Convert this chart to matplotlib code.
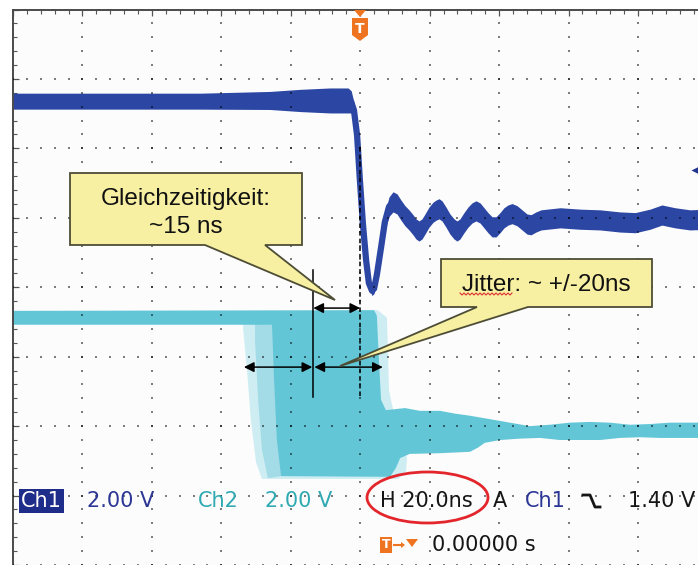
import numpy as np
import matplotlib
matplotlib.use("Agg")
import matplotlib.pyplot as plt
from matplotlib.patches import Polygon, Ellipse
from matplotlib.ticker import MultipleLocator

# ---------------- data (time in ns, H = 20 ns/div, trigger at 0; vertical in divisions) ----------------
ch1_t = [-100.0, -46.0, -26.0, -17.3, -8.7, -3.5, -2.6, -1.8, -0.9, -0.1, 0.8, 1.7, 2.5, 3.4, 4.0,
         4.8, 6.0, 7.1, 8.3, 9.45, 10.6, 11.75, 12.9, 14.06, 15.21, 16.07, 16.94, 17.8, 18.66, 19.82,
         20.97, 21.83, 22.7, 23.56, 24.71, 25.86, 27.02, 27.88, 28.74, 29.9, 31.05, 32.2, 33.35,
         34.51, 35.66, 36.81, 37.97, 39.12, 40.27, 41.42, 42.57, 43.73, 45.17, 46.61, 48.05, 49.2,
         50.64, 52.08, 57.6, 63.3, 69.1, 74.8, 79.2, 83.5, 86.9, 90.7, 95.0, 100.0]
ch1_y = [2.68, 2.68, 2.69, 2.69, 2.69, 2.69, 2.67, 2.55, 2.19, 1.55, 0.90, 0.39, 0.06, -0.05, -0.02,
         0.18, 0.57, 0.94, 1.16, 1.23, 1.20, 1.11, 1.03, 0.97, 0.90, 0.84, 0.81, 0.84, 0.91, 1.01,
         1.08, 1.11, 1.13, 1.10, 1.01, 0.91, 0.84, 0.81, 0.84, 0.93, 1.01, 1.07, 1.10,
         1.07, 1.00, 0.93, 0.87, 0.87, 0.93, 1.00, 1.04, 1.06, 1.03, 0.97, 0.91, 0.90,
         0.94, 0.97, 1.00, 0.98, 0.97, 0.94, 0.93, 0.98, 1.04, 1.00, 0.97, 0.98]
ch1_noise = [0.115, 0.115, 0.13, 0.16, 0.18, 0.18, 0.16, 0.115, 0.09, 0.07, 0.07, 0.07, 0.07, 0.07, 0.07,
             0.09, 0.10, 0.12, 0.14, 0.145, 0.145, 0.145, 0.145, 0.145, 0.145, 0.145, 0.145, 0.145,
             0.145, 0.145, 0.145, 0.145, 0.145, 0.145, 0.145, 0.145, 0.145, 0.145, 0.145, 0.145,
             0.145, 0.145, 0.145, 0.145, 0.145, 0.145, 0.145, 0.145, 0.145, 0.145, 0.145, 0.145,
             0.145, 0.145, 0.145, 0.145, 0.145, 0.145, 0.145, 0.145, 0.145, 0.145, 0.145, 0.145, 0.145,
             0.145, 0.145, 0.145]

# Ch2 persistence envelope (main body)
ch2_upper_t = [-100.0, 4.0, 4.8, 5.4, 6.0, 7.4, 12.9, 17.2, 23.0, 27.3, 31.6, 37.4, 43.1, 48.9, 54.7,
               60.4, 66.2, 71.9, 77.7, 83.5, 89.2, 100.0]
ch2_upper_y = [-0.34, -0.33, -0.41, -1.05, -1.62, -1.77, -1.74, -1.78, -1.78, -1.82, -1.85, -1.90, -1.95,
               -2.00, -1.98, -1.95, -1.94, -1.95, -1.98, -1.97, -1.95, -1.95]
ch2_lower_t = [-100.0, -25.4, -24.8, -24.0, -22.8, 8.6, 10.3, 11.5, 14.3, 23.0, 31.6, 33.9, 35.9, 40.3,
               46.0, 51.8, 57.5, 63.3, 69.1, 74.8, 80.6, 86.3, 100.0]
ch2_lower_y = [-0.54, -0.54, -1.34, -2.20, -2.72, -2.73, -2.60, -2.46, -2.40, -2.39, -2.37, -2.31, -2.24,
               -2.20, -2.18, -2.17, -2.20, -2.20, -2.20, -2.17, -2.16, -2.17, -2.17]
# Ch2 rare-trace jitter fringe (outer outline) and medium-density band
ch2_jitter_t = [-33.7, 5.1, 7.7, 8.3, 9.2, 11.5, 13.5, 13.2, 10.9, -28.3, -30.0, -31.5, -32.6, -33.7]
ch2_jitter_y = [-0.44, -0.33, -0.44, -1.49, -1.70, -2.20, -2.46, -2.66, -2.76, -2.76, -2.52, -1.91, -1.19, -0.61]
ch2_mid_t = [-30.3, -25.1, -22.8, -26.6, -28.3, -29.4, -30.3]
ch2_mid_y = [-0.50, -0.54, -2.72, -2.75, -2.34, -1.62, -0.76]

trigger_t = 0.0
sync_t = -13.5          # "Gleichzeitigkeit" marker line
jitter_ns = 20.0
ch1_ref_div = 1.69      # Ch1 marker on right edge

status_labels = ["2.00 V", "Ch2", "2.00 V", "H 20.0ns", "A", "Ch1", "1.40 V"]
status_colors = ["#2b3695", "#2fa9b2", "#2fa9b2", "#151515", "#151515", "#2b3695", "#151515"]
callout1 = ["Gleichzeitigkeit:", "~15 ns"]
callout2 = "Jitter: ~ +/-20ns"
trig_pos_text = "0.00000 s"

# ---------------- figure ----------------
W, H = 698, 565
fig = plt.figure(figsize=(W / 100, H / 100), dpi=100, facecolor="white")
ax = fig.add_axes([13 / W, 0, 694.4 / W, 555.5 / H])
ax.set_xlim(-100, 100)
ax.set_ylim(-4, 4)
ax.set_facecolor("#fcfcfc")

def fx(x):
    return x / W

def fy(y):
    return 1 - y / H

# borders and ruler ticks
for s in ["right", "bottom"]:
    ax.spines[s].set_visible(False)
for s in ["top", "left"]:
    ax.spines[s].set_color("#4a4a4a")
    ax.spines[s].set_linewidth(1.4)
ax.xaxis.set_ticks_position("top")
ax.yaxis.set_ticks_position("left")
ax.xaxis.set_major_locator(MultipleLocator(20))
ax.xaxis.set_minor_locator(MultipleLocator(4))
ax.yaxis.set_major_locator(MultipleLocator(1))
ax.yaxis.set_minor_locator(MultipleLocator(0.2))
ax.tick_params(which="both", direction="in", color="#555555", labeltop=False, labelleft=False,
               labelbottom=False)
ax.tick_params(which="major", length=4, width=0.9)
ax.tick_params(which="minor", length=3, width=0.8)

# ---- traces ----
c2_main = "#62c6d7"
ax.fill(ch2_jitter_t, ch2_jitter_y, color="#cdedf3", lw=0, zorder=2)
ax.fill(ch2_mid_t, ch2_mid_y, color="#a3dce6", lw=0, zorder=2.1)
ax.fill(list(ch2_upper_t) + list(ch2_lower_t[::-1]), list(ch2_upper_y) + list(ch2_lower_y[::-1]),
        color=c2_main, lw=0, zorder=2.2)

c1 = np.array(ch1_y)
n1 = np.array(ch1_noise)
c1_col = "#2c46a3"
ax.fill_between(ch1_t, c1 - n1, c1 + n1, color=c1_col, lw=0, zorder=2.5)
ax.plot(ch1_t, ch1_y, color=c1_col, lw=4.5, solid_capstyle="butt", solid_joinstyle="round", zorder=2.5)

# ---- graticule dots ----
gx, gy = [], []
for yv in range(-4, 4):
    for xv in np.arange(-100, 100.1, 4):
        gx.append(xv); gy.append(yv)
for xv in range(-80, 101, 20):
    for yv in np.arange(-4, 4.01, 0.2):
        gx.append(xv); gy.append(yv)
ax.scatter(gx, gy, s=2.4, marker="s", color="black", alpha=0.5, lw=0, zorder=3)

# ---- annotation lines & arrows ----
ax.plot([sync_t, sync_t], [0.25, -1.58], color="black", lw=1.1, zorder=5)
ax.plot([trigger_t, trigger_t], [2.02, -1.59], color="black", lw=1.1, ls=(0, (3, 2)), zorder=5)
arr = dict(arrowstyle="<|-|>", color="black", lw=1.1, mutation_scale=15, shrinkA=0, shrinkB=0)
ax.annotate("", xy=(trigger_t, -0.30), xytext=(sync_t, -0.30), arrowprops=arr, zorder=5)
ax.annotate("", xy=(sync_t - jitter_ns, -1.15), xytext=(sync_t - 0.3, -1.15), arrowprops=arr, zorder=5)
ax.annotate("", xy=(sync_t + 0.3, -1.15), xytext=(sync_t + jitter_ns, -1.15), arrowprops=arr, zorder=5)

# Ch1 reference marker (right edge)
ax.plot([97.6], [ch1_ref_div], marker="<", ms=11, color="#22358f", mec="none", clip_on=False, zorder=4)

# ---- callouts (figure pixel layout) ----
def poly_px(pts, **kw):
    p = Polygon([(fx(x), fy(y)) for x, y in pts], closed=True, transform=fig.transFigure, **kw)
    fig.patches.append(p)

box_style = dict(facecolor="#f7efa2", edgecolor="#4d4d36", lw=1.3, zorder=10)
poly_px([(70, 173), (302, 173), (302, 245), (265, 245), (335, 300), (205, 245), (70, 245)], **box_style)
poly_px([(441, 259), (652, 259), (652, 307), (528, 307), (340, 366), (477, 307), (441, 307)], **box_style)

tf = dict(family="Liberation Sans", fontsize=17.5, color="#111111", zorder=11)
fig.text(fx(186), fy(205), callout1[0], ha="center", va="baseline", **tf)
fig.text(fx(186), fy(233), callout1[1], ha="center", va="baseline", **tf)
fig.text(fx(546.5), fy(291), callout2, ha="center", va="baseline", **tf)
# spell-check squiggle under "Jitter"
sx = np.arange(460, 513, 2.0)
sy = 294 + np.where(np.arange(len(sx)) % 2 == 0, -1.0, 1.0)
fig.lines.append(plt.Line2D(fx(sx), fy(sy), color="#e03030", lw=0.8, transform=fig.transFigure, zorder=11))

# ---- trigger marker at top ----
orange = "#ee7422"
poly_px([(354, 10), (366, 10), (360, 17)], facecolor=orange, edgecolor="none", zorder=10)
poly_px([(352, 18), (368, 18), (368, 35), (360, 41), (352, 35)], facecolor=orange, edgecolor="none", zorder=10)
fig.text(fx(360), fy(29), "T", ha="center", va="center", color="white", fontsize=10, weight="bold",
         family="DejaVu Sans", zorder=11)

# ---- status bar ----
sf = dict(family="DejaVu Sans", fontsize=15, va="center", ha="left", zorder=11)
fig.text(fx(21), fy(501), "Ch1", color="white",
         bbox=dict(boxstyle="square,pad=0.08", fc="#1f2d8a", ec="none"), **sf)
xs = [87, 198, 265, 380, 493, 525, 628]
for x, lab, col in zip(xs, status_labels, status_colors):
    fig.text(fx(x), fy(501), lab, color=col, **sf)
fig.lines.append(plt.Line2D([fx(583), fx(590), fx(595), fx(600)], [fy(495), fy(495), fy(507), fy(507)],
                            color="#151515", lw=2.0, transform=fig.transFigure, zorder=11))
fig.patches.append(Ellipse((fx(427.5), fy(497.5)), 121 / W, 51 / H, transform=fig.transFigure,
                           fill=False, edgecolor="#e3262b", lw=2.0, zorder=11))

# second status row: trigger position
poly_px([(380, 537), (392, 537), (392, 553), (380, 553)], facecolor=orange, edgecolor="none", zorder=10)
fig.text(fx(386), fy(545), "T", ha="center", va="center", color="white", fontsize=9, weight="bold",
         family="DejaVu Sans", zorder=11)
fig.lines.append(plt.Line2D([fx(394), fx(402)], [fy(545), fy(545)], color=orange, lw=1.5,
                            transform=fig.transFigure, zorder=11))
poly_px([(401, 542), (405, 545), (401, 548)], facecolor=orange, edgecolor="none", zorder=10)
poly_px([(406, 539), (418, 539), (412, 547)], facecolor=orange, edgecolor="none", zorder=10)
fig.text(fx(432), fy(545), trig_pos_text, color="#151515", **sf)

fig.savefig("out.png", dpi=100, facecolor="white")
